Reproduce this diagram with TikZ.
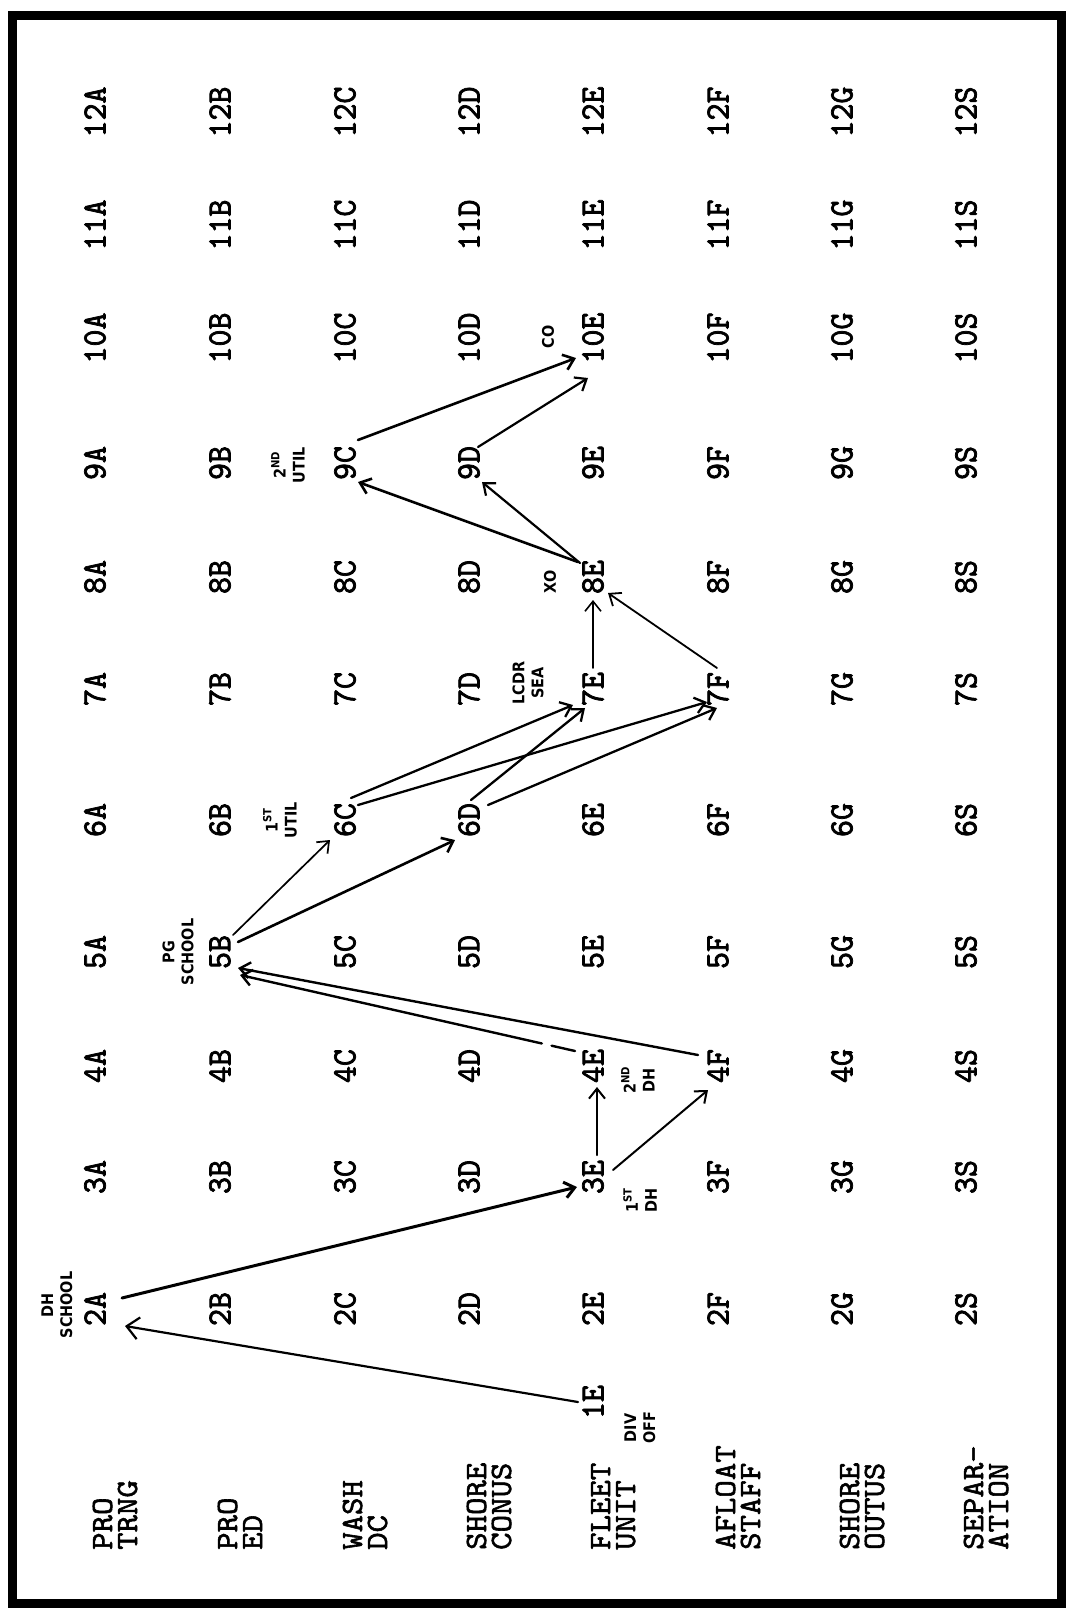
\documentclass[tikz,border=0pt]{standalone}
\usepackage{fontspec}
\newfontfamily\cellfont[FakeStretch=0.95,FakeBold=2.2]{lmmono10-regular.otf}
\newfontfamily\labfont[FakeStretch=1.07,FakeBold=1.8]{lmmono10-regular.otf}
\newfontfamily\hwfont[FakeStretch=0.9]{DejaVu Sans}
\usetikzlibrary{arrows.meta}
\begin{document}
\begin{tikzpicture}[x=1pt,y=-1pt,
  cell/.style={rotate=90, inner sep=0pt, font=\cellfont\fontsize{34}{34}\selectfont},
  catlabel/.style={rotate=90, anchor=base west, inner sep=0pt, align=left, font=\labfont\fontsize{31}{25}\selectfont},
  note/.style={rotate=90, inner sep=0pt, align=center, font=\hwfont\bfseries\fontsize{16}{19}\selectfont},
  arr/.style={-{Straight Barb[length=10pt,width=16pt]}, line width=2.4pt, line cap=round},
  thinarr/.style={arr, line width=1.7pt},
  bigarr/.style={-{Straight Barb[length=12pt,width=22pt]}, line width=2.2pt, line cap=round},
  frame/.style={line width=9pt}]
\useasboundingbox (0,0) rectangle (1070,1612);
\fill[white] (0,0) rectangle (1070,1612);
\draw[frame] (12,15) rectangle (1061,1603);

% category labels
\node[catlabel] (lA) at (137,1550) {PRO\\TRNG};
\node[catlabel] (lB) at (262,1550) {PRO\\ED};
\node[catlabel] (lC) at (387,1550) {WASH\\DC};
\node[catlabel] (lD) at (511,1550) {SHORE\\CONUS};
\node[catlabel] (lE) at (635,1550) {FLEET\\UNIT};
\node[catlabel] (lF) at (760,1550) {AFLOAT\\STAFF};
\node[catlabel] (lG) at (884,1550) {SHORE\\OUTUS};
\node[catlabel] (lS) at (1008,1550) {SEPAR-\\ATION};

% grid of cells
\foreach \r/\yy in {2/1309,3/1177,4/1066,5/952,6/820,7/689,8/577,9/463,10/338,11/225,12/112}{
  \foreach \c/\xx in {A/95,B/220,C/345,D/469,E/593,F/718,G/842,S/966}{
    \node[cell] (c\r\c) at (\xx,\yy) {\r\c};
  }
}
\node[cell] (c1E) at (593,1402) {1E};

% handwritten notes
\node[note] (nDH) at (57,1305) {DH\\SCHOOL};
\node[note] (nDIV) at (640,1428) {DIV\\OFF};
\node[note] (n1DH) at (640,1200) {1\textsuperscript{ST}\\DH};
\node[note] (n2DH) at (638,1080) {2\textsuperscript{ND}\\DH};
\node[note] (nPG) at (178,952) {PG\\SCHOOL};
\node[note] (n1U) at (280,820) {1\textsuperscript{ST}\\UTIL};
\node[note] (nLC) at (528,683) {LCDR\\SEA};
\node[note] (nXO) at (550,582) {XO};
\node[note] (n2U) at (288,465) {2\textsuperscript{ND}\\UTIL};
\node[note] (nCO) at (548,337) {CO};

% connectors
\draw[bigarr] ([shift={(-15,0)}]c1E.center) -- ([shift={(30,17)}]c2A.center);
\draw[arr, line width=3pt] ([shift={(27,-11)}]c2A.center) -- ([shift={(-16,10)}]c3E.center);
\draw[thinarr, line width=2pt] ([shift={(4,-22)}]c3E.center) -- ([shift={(4,21)}]c4E.center);
\draw[thinarr, line width=2pt] ([shift={(20,-7)}]c3E.center) -- ([shift={(-10,24)}]c4F.center);
\draw[arr, dash pattern={on 24pt off 10pt on 600pt}] ([shift={(-18,-15)}]c4E.center) -- ([shift={(20,23)}]c5B.center);
\draw[arr] ([shift={(-20,-11)}]c4F.center) -- ([shift={(18,16)}]c5B.center);
\draw[thinarr] ([shift={(13,-17)}]c5B.center) -- ([shift={(-15,20)}]c6C.center);
\draw[arr, line width=2.6pt] ([shift={(18,-10)}]c5B.center) -- ([shift={(-14,20)}]c6D.center);
\draw[arr, line width=2.3pt] ([shift={(6,-22)}]c6C.center) -- ([shift={(-20,16)}]c7E.center);
\draw[arr, line width=2.3pt] ([shift={(13,-15)}]c6C.center) -- ([shift={(-11,13)}]c7F.center);
\draw[arr, line width=2.3pt] ([shift={(2,-20)}]c6D.center) -- ([shift={(-8,19)}]c7E.center);
\draw[arr, line width=2.3pt] ([shift={(19,-15)}]c6D.center) -- ([shift={(-1,19)}]c7F.center);
\draw[thinarr, line width=1.6pt] ([shift={(0,-21)}]c7E.center) -- ([shift={(0,23)}]c8E.center);
\draw[thinarr, line width=1.8pt] ([shift={(-1,-21)}]c7F.center) -- ([shift={(15,16)}]c8E.center);
\draw[arr, line width=2.6pt] ([shift={(-15,-15)}]c8E.center) -- ([shift={(13,19)}]c9C.center);
\draw[arr, line width=2.2pt] ([shift={(-13,-14)}]c8E.center) -- ([shift={(13,19)}]c9D.center);
\draw[arr, line width=2.6pt] ([shift={(13,-23)}]c9C.center) -- ([shift={(-17,20)}]c10E.center);
\draw[arr, line width=2.2pt] ([shift={(9,-16)}]c9D.center) -- ([shift={(-5,40)}]c10E.center);
\end{tikzpicture}
\end{document}
